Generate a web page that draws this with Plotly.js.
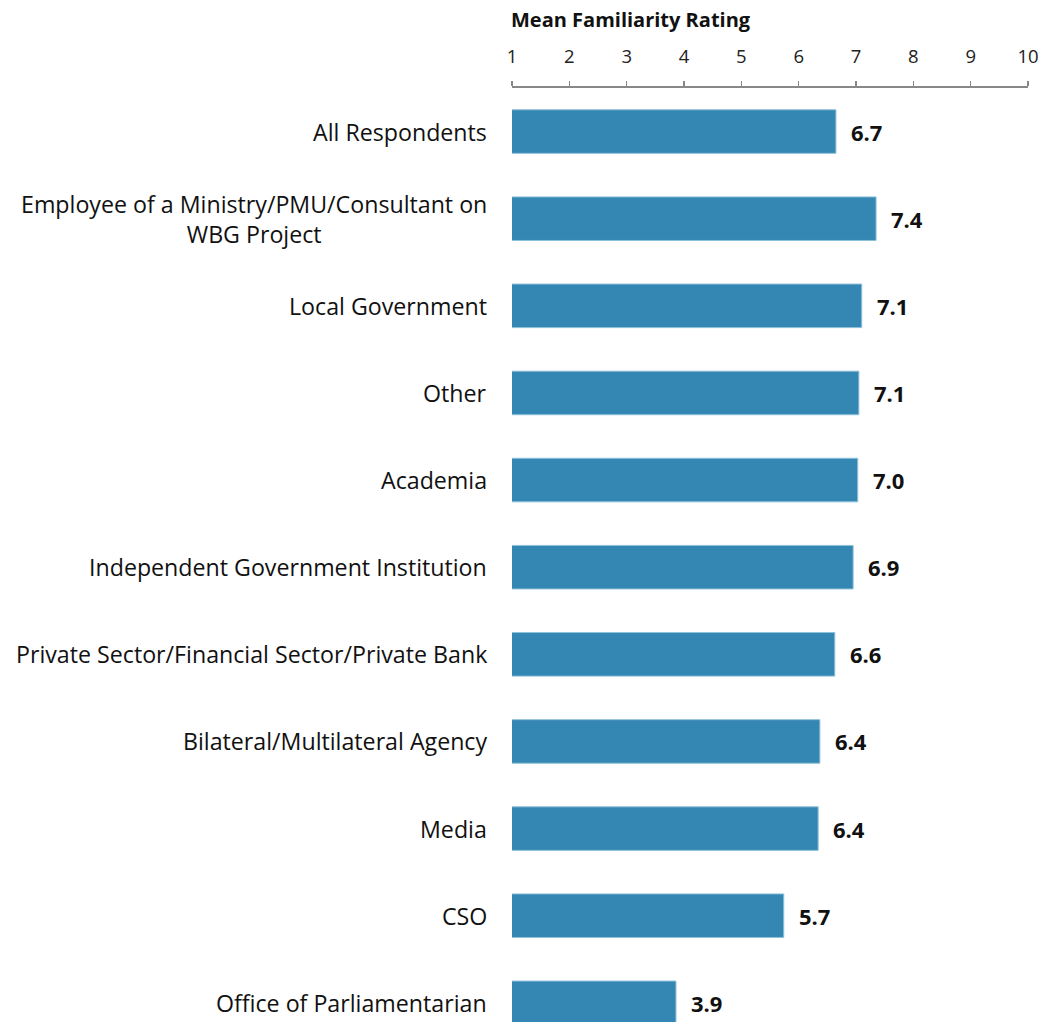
<!DOCTYPE html>
<html>
<head>
<meta charset="utf-8">
<script src="https://cdn.plot.ly/plotly-3.0.1.min.js"></script>
<style>html,body{margin:0;padding:0;background:#fff;}#chart{width:1043px;height:1022px;}</style>
</head>
<body>
<div id="chart"></div>
<script>
const categories = [
  "All Respondents",
  "Employee of a Ministry/PMU/Consultant on<br>WBG Project",
  "Local Government",
  "Other",
  "Academia",
  "Independent Government Institution",
  "Private Sector/Financial Sector/Private Bank",
  "Bilateral/Multilateral Agency",
  "Media",
  "CSO",
  "Office of Parliamentarian"
];
const values = [6.65, 7.35, 7.1, 7.05, 7.03, 6.95, 6.63, 6.37, 6.34, 5.74, 3.86];
const valueLabels = ["6.7", "7.4", "7.1", "7.1", "7.0", "6.9", "6.6", "6.4", "6.4", "5.7", "3.9"];
const tickVals = [1, 2, 3, 4, 5, 6, 7, 8, 9, 10];
const axisTitle = "Mean Familiarity Rating";

const FONT = "'Open Sans', Lato, sans-serif";
const idx = categories.map((c, i) => i);

const trace = {
  type: "bar",
  orientation: "h",
  y: idx,
  x: values,
  width: 0.5,
  marker: { color: "#3487b3", line: { color: "#8fc0da", width: 1 } },
  hoverinfo: "x"
};

const annotations = [];
categories.forEach((c, i) => {
  annotations.push({
    xref: "paper", yref: "y", x: 0, y: i, xanchor: "right", yanchor: "middle",
    xshift: -23, text: c, showarrow: false, align: "center",
    font: { family: FONT, size: 23.2, color: "#111" }
  });
  annotations.push({
    xref: "x", yref: "y", x: values[i], y: i, xanchor: "left", yanchor: "middle",
    xshift: 13, text: "<b>" + valueLabels[i] + "</b>", showarrow: false,
    font: { family: FONT, size: 22, color: "#111" }
  });
});
annotations.push({
  xref: "paper", yref: "paper", x: 0, y: 1, xanchor: "left", yanchor: "middle",
  yshift: 69, xshift: -3, text: "<b>" + axisTitle + "</b>", showarrow: false,
  font: { family: FONT, size: 20, color: "#111" }
});

const layout = {
  width: 1043, height: 1022,
  margin: { l: 512, r: 15, t: 88, b: 0 },
  paper_bgcolor: "#fff", plot_bgcolor: "#fff",
  showlegend: false,
  xaxis: {
    side: "top", range: [1, 10], tickvals: tickVals, ticks: "outside",
    ticklen: 5, tickcolor: "#888", tickwidth: 1.5, showline: true, linecolor: "#888", linewidth: 2,
    ticklabelstandoff: 11,
    showgrid: false, zeroline: false, tickfont: { family: FONT, size: 18.5, color: "#222" }
  },
  yaxis: {
    range: [10.22, -0.5], showticklabels: false, ticks: "", showgrid: false,
    zeroline: false, showline: false, tickvals: idx
  },
  annotations: annotations
};

Plotly.newPlot("chart", [trace], layout, { displayModeBar: false, staticPlot: true });
</script>
</body>
</html>
